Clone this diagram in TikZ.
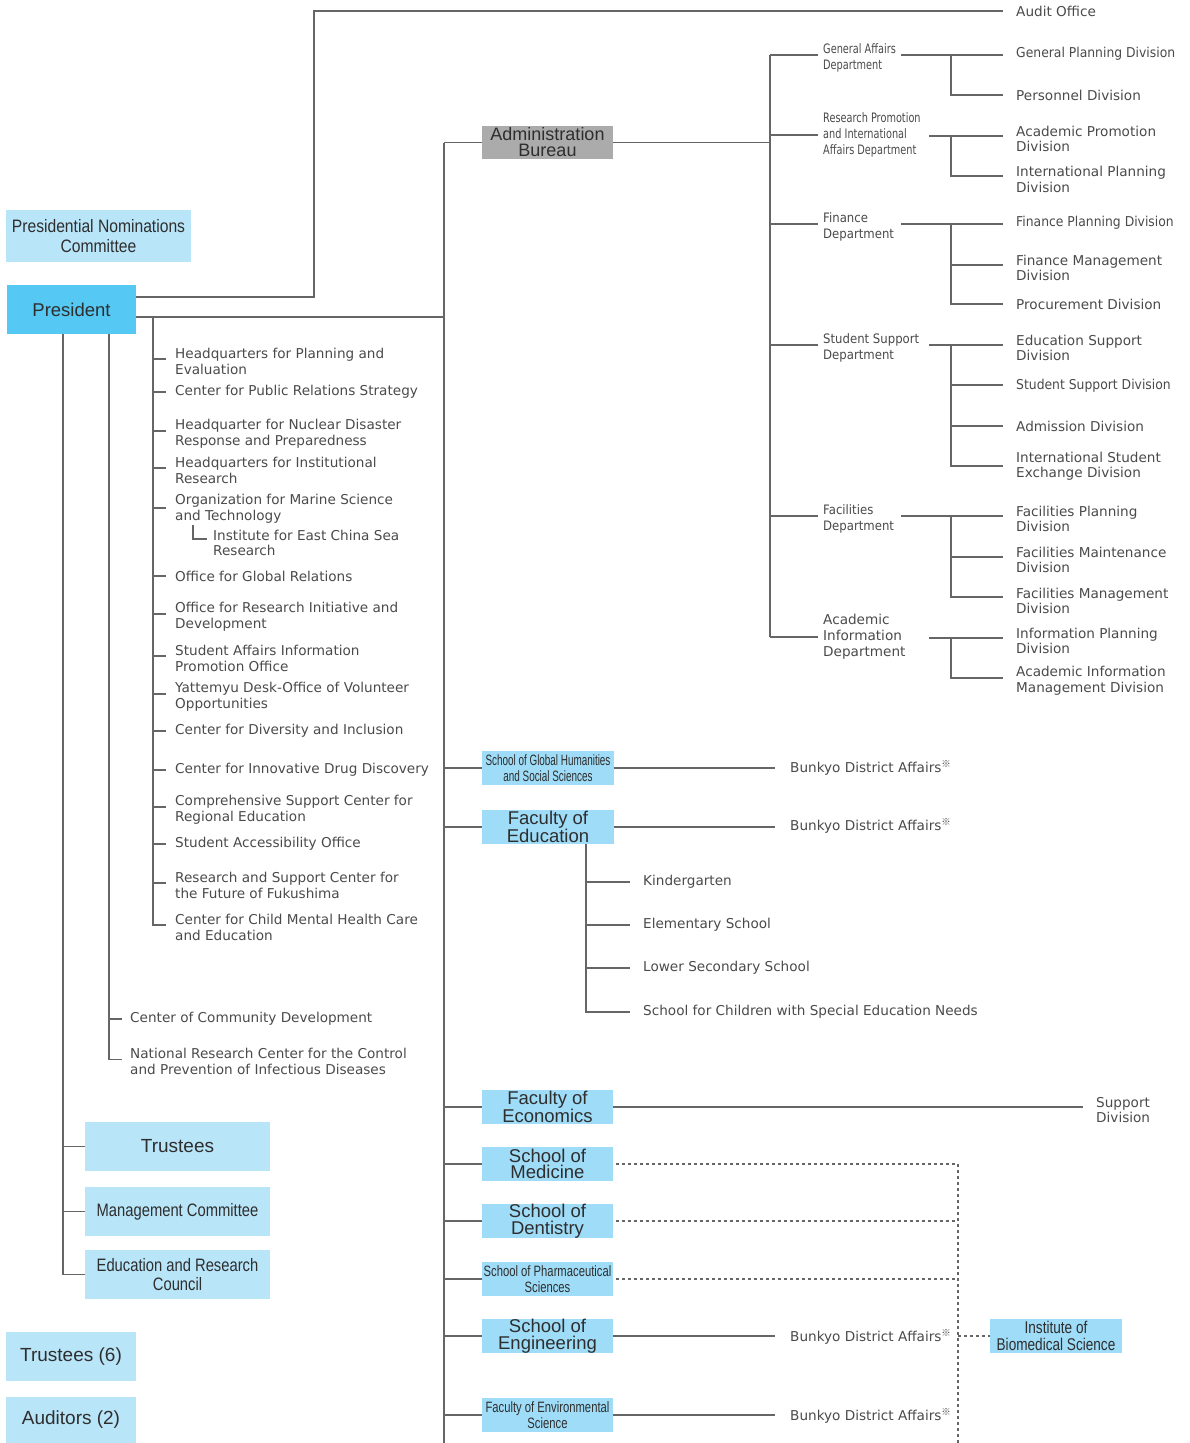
\documentclass[tikz,border=0pt]{standalone}
\usepackage{fontspec}
\setmainfont{DejaVu Sans}
\newfontfamily\bxf{Liberation Sans}
\newfontfamily\bxfS[FakeStretch=0.66]{Liberation Sans}
\newfontfamily\bxfP[FakeStretch=0.75]{Liberation Sans}
\newfontfamily\bxfI[FakeStretch=0.8]{Liberation Sans}
\newfontfamily\bxfN[FakeStretch=0.87]{Liberation Sans}
\newfontfamily\bxfM[FakeStretch=0.82]{Liberation Sans}
\newfontfamily\depA[FakeStretch=0.75]{DejaVu Sans}
\newfontfamily\depB[FakeStretch=0.9]{DejaVu Sans}
\newfontfamily\divN[FakeStretch=0.91]{DejaVu Sans}
\newfontfamily\cjkf{Noto Sans CJK JP}
\definecolor{linec}{HTML}{666666}
\definecolor{txtc}{HTML}{4A4A4A}
\definecolor{boxtc}{HTML}{2E2E2E}
\definecolor{lightb}{HTML}{B9E5F9}
\definecolor{presb}{HTML}{55C8F4}
\definecolor{facb}{HTML}{9FDCF7}
\definecolor{admb}{HTML}{ABABAB}
\newcommand\refmark{\raisebox{5.5pt}[0pt][0pt]{\cjkf\fontsize{9.5}{9.5}\selectfont ※}}
\newcommand\bodysize{\fontsize{13.6}{15.5}\selectfont}
\begin{document}
\begin{tikzpicture}[x=1pt,y=-1pt,
  conn/.style={draw=linec,line width=1.8pt},
  dotc/.style={draw=linec,line width=1.6pt,dash pattern=on 3pt off 3pt},
  txt/.style={inner sep=0pt,anchor=west,align=left,text=txtc,font=\bodysize},
  ntxt/.style={txt,font=\divN\bodysize},
  boxbase/.style={inner sep=0pt,draw=none},
  lbox/.style={boxbase,fill=lightb},
  pbox/.style={boxbase,fill=presb},
  fbox/.style={boxbase,fill=facb,minimum width=131pt,minimum height=34pt},
  gbox/.style={boxbase,fill=admb},
  blabel/.style={inner sep=0pt,align=center,text=boxtc},
  deptA/.style={txt,font=\depA\fontsize{13}{16}\selectfont},
  deptB/.style={txt,font=\depB\fontsize{13}{16}\selectfont},
]
\useasboundingbox (0,0) rectangle (1189,1443);

% ---------- boxes ----------
\node[lbox,minimum width=185pt,minimum height=52pt] (pnc) at (98.5,236) {};
\node[blabel,font=\bxfN\fontsize{18}{20}\selectfont] (pnc-l) at (pnc) {Presidential Nominations\\Committee};
\node[pbox,minimum width=129pt,minimum height=49pt] (pres) at (71.5,309.5) {};
\node[blabel,font=\bxf\fontsize{18.5}{20}\selectfont] (pres-l) at (pres) {President};
\node[gbox,minimum width=131pt,minimum height=33pt] (adm) at (547.5,142.5) {};
\node[blabel,font=\bxf\fontsize{18}{16}\selectfont] (adm-l) at (adm) {Administration\\Bureau};

\node[fbox,minimum width=132pt] (sgh) at (548,768) {};
\node[blabel,font=\bxfS\fontsize{15}{16}\selectfont] (sgh-l) at (sgh) {School of Global Humanities\\and Social Sciences};
\node[fbox,minimum width=132pt] (fed) at (548,827) {};
\node[blabel,font=\bxf\fontsize{18.5}{16.5}\selectfont] (fed-l) at (fed) {Faculty of\\Education};
\node[fbox] (fec) at (547.5,1107) {};
\node[blabel,font=\bxf\fontsize{18.5}{16.5}\selectfont] (fec-l) at (fec) {Faculty of\\Economics};
\node[fbox] (med) at (547.5,1164) {};
\node[blabel,font=\bxf\fontsize{18.5}{16.5}\selectfont] (med-l) at (med) {School of\\Medicine};
\node[fbox] (den) at (547.5,1221) {};
\node[blabel,font=\bxf\fontsize{18.5}{16.5}\selectfont] (den-l) at (den) {School of\\Dentistry};
\node[fbox] (pha) at (547.5,1279) {};
\node[blabel,font=\bxfP\fontsize{15}{16}\selectfont] (pha-l) at (pha) {School of Pharmaceutical\\Sciences};
\node[fbox] (eng) at (547.5,1336) {};
\node[blabel,font=\bxf\fontsize{18.5}{16.5}\selectfont] (eng-l) at (eng) {School of\\Engineering};
\node[fbox] (env) at (547.5,1415) {};
\node[blabel,font=\bxfP\fontsize{15}{16}\selectfont] (env-l) at (env) {Faculty of Environmental\\Science};
\node[fbox,minimum width=132pt] (ibs) at (1056,1336) {};
\node[blabel,font=\bxfI\fontsize{17}{17}\selectfont] (ibs-l) at (ibs) {Institute of\\Biomedical Science};

\node[lbox,minimum width=185pt,minimum height=49pt] (tru) at (177.5,1146.5) {};
\node[blabel,font=\bxf\fontsize{19}{20}\selectfont] (tru-l) at (tru) {Trustees};
\node[lbox,minimum width=185pt,minimum height=49pt] (mgc) at (177.5,1211.5) {};
\node[blabel,font=\bxfM\fontsize{18}{19}\selectfont] (mgc-l) at (mgc) {Management Committee};
\node[lbox,minimum width=185pt,minimum height=49pt] (erc) at (177.5,1274.5) {};
\node[blabel,font=\bxfM\fontsize{18}{19}\selectfont] (erc-l) at (erc) {Education and Research\\Council};
\node[lbox,minimum width=130pt,minimum height=49pt] (tr6) at (71,1356.5) {};
\node[blabel,font=\bxf\fontsize{19}{20}\selectfont] (tr6-l) at (tr6) {Trustees (6)};
\node[lbox,minimum width=130pt,minimum height=46pt] (aud) at (71,1420) {};
\node[blabel,font=\bxf\fontsize{19}{20}\selectfont] (aud-l) at (aud) {Auditors (2)};

% ---------- spine coordinates ----------
\coordinate (R) at (444,317);
\coordinate (Rb) at (444,1443);
\coordinate (L1) at (153,317);
\coordinate (L2) at (109,0);
\coordinate (L3) at (63,0);
\coordinate (T) at (314,0);
\coordinate (A) at (770,0);
\coordinate (Ea) at (901,0);
\coordinate (Eb) at (929,0);
\coordinate (D) at (951,0);
\coordinate (E) at (586,0);
\coordinate (M) at (958,0);
\coordinate (Mb) at (958,1443);

% ---------- audit office ----------
\node[txt] (audo) at (1016,11) {Audit Office};
\path ([xshift=-13pt]audo.west) coordinate (b-audo);
\draw[conn] ([yshift=12.5pt]pres.east) -| (T |- b-audo) -- (b-audo);

% ---------- main spine ----------
\draw[conn] ([yshift=-7.5pt]pres.east) -- (R);
\draw[conn] (R |- adm.west) -- (Rb);
\foreach \n in {adm,sgh,fed,fec,med,den,pha,eng,env}
  \draw[conn] (R |- \n.west) -- (\n.west);

% ---------- left column ----------
\node[txt] (hq1) at (175,361.5) {Headquarters for Planning and\\Evaluation};
\node[txt] (cpr) at (175,392) {Center for Public Relations Strategy};
\node[txt] (hnd) at (175,433.5) {Headquarter for Nuclear Disaster\\Response and Preparedness};
\node[txt] (hir) at (175,470.5) {Headquarters for Institutional\\Research};
\node[txt] (oms) at (175,508.5) {Organization for Marine Science\\and Technology};
\node[txt] (iec) at (213,543) {Institute for East China Sea\\Research};
\node[txt] (ogr) at (175,576) {Office for Global Relations};
\node[txt] (ori) at (175,616.5) {Office for Research Initiative and\\Development};
\node[txt] (sai) at (175,658.5) {Student Affairs Information\\Promotion Office};
\node[txt] (ydo) at (175,696.5) {Yattemyu Desk-Office of Volunteer\\Opportunities};
\node[txt] (cdi) at (175,731) {Center for Diversity and Inclusion};
\node[txt] (cid) at (175,770) {Center for Innovative Drug Discovery};
\node[txt] (csc) at (175,809.5) {Comprehensive Support Center for\\Regional Education};
\node[txt] (sao) at (175,844) {Student Accessibility Office};
\node[txt] (rsf) at (175,885.5) {Research and Support Center for\\the Future of Fukushima};
\node[txt] (cmh) at (175,927.5) {Center for Child Mental Health Care\\and Education};

\foreach \n/\d in {hq1/2.7,cpr/0,hnd/2.7,hir/2.7,oms/0.5,ogr/0,ori/2.7,sai/2.7,ydo/2.7,cdi/0,cid/0,csc/2.7,sao/0,rsf/2.7}{
  \path ([xshift=-9pt,yshift=\d pt]\n.west) coordinate (b-\n);
  \draw[conn] (L1 |- b-\n) -- (b-\n);
}
\path ([xshift=-9pt,yshift=2.7pt]cmh.west) coordinate (b-cmh);
\draw[conn] (L1) |- (b-cmh);
\path ([xshift=-6pt,yshift=3.7pt]iec.west) coordinate (b-iec);
\draw[conn] ([xshift=18pt,yshift=-2pt]oms.south west) |- (b-iec);

\node[txt] (ccd) at (130,1019) {Center of Community Development};
\node[txt] (nrc) at (130,1061.5) {National Research Center for the Control\\and Prevention of Infectious Diseases};
\path ([xshift=-8pt]ccd.west) coordinate (b-ccd);
\path ([xshift=-8pt,yshift=2pt]nrc.west) coordinate (b-nrc);
\draw[conn] (L2 |- pres.south) |- (b-nrc);
\draw[conn] (L2 |- b-ccd) -- (b-ccd);

\draw[conn] (L3 |- pres.south) |- (erc.west);
\draw[conn] (L3 |- tru.west) -- (tru.west);
\draw[conn] (L3 |- mgc.west) -- (mgc.west);

% ---------- administration bureau ----------
\node[deptA] (gad) at (823,58) {General Affairs\\Department};
\node[deptA] (rpi) at (823,135) {Research Promotion\\and International\\Affairs Department};
\node[deptB] (fin) at (823,227) {Finance\\Department};
\node[deptB] (ssp) at (823,348) {Student Support\\Department};
\node[deptB] (fac) at (823,519) {Facilities\\Department};
\node[txt,font=\fontsize{13.6}{16}\selectfont] (aci) at (823,637) {Academic\\Information\\Department};

\foreach \n/\d in {gad/3,rpi/0,fin/3,ssp/3,fac/3,aci/0}{
  \path ([xshift=-5pt,yshift=\d pt]\n.west) coordinate (b-\n);
}
\draw[conn] (adm.east) -- (A |- adm.east);
\draw[conn] (A |- b-gad) -- (A |- b-aci);
\foreach \n in {gad,rpi,fin,ssp,fac,aci}
  \draw[conn] (A |- b-\n) -- (b-\n);

\node[ntxt] (gpd) at (1016,54) {General Planning Division};
\node[txt] (ped) at (1016,95) {Personnel Division};
\node[txt] (apd) at (1016,139) {Academic Promotion\\Division};
\node[txt] (ipd) at (1016,179.3) {International Planning\\Division};
\node[ntxt] (fpd) at (1016,223) {Finance Planning Division};
\node[txt] (fmd) at (1016,268) {Finance Management\\Division};
\node[txt] (prd) at (1016,304) {Procurement Division};
\node[txt] (esd) at (1016,348) {Education Support\\Division};
\node[txt,font=\divN\bodysize] (ssd) at (1016,386) {Student Support Division};
\node[txt] (add) at (1016,426) {Admission Division};
\node[txt] (ise) at (1016,466) {International Student\\Exchange Division};
\node[txt] (fpl) at (1016,519) {Facilities Planning\\Division};
\node[txt] (fma) at (1016,559.7) {Facilities Maintenance\\Division};
\node[txt] (fmg) at (1016,600.7) {Facilities Management\\Division};
\node[txt] (ipl) at (1016,640.7) {Information Planning\\Division};
\node[txt] (aim) at (1016,680.7) {Academic Information\\Management Division};

\foreach \n/\d in {gpd/-1,ped/0,apd/3.3,ipd/3.3,fpd/-1,fmd/3,prd/0,esd/3,ssd/1,add/0,ise/0,fpl/3,fma/2.7,fmg/3.7,ipl/3,aim/2.4}{
  \path ([xshift=-13pt,yshift=\d pt]\n.west) coordinate (b-\n);
}
% dept -> division lines
\foreach \e/\f in {Ea/gpd,Eb/apd,Ea/fpd,Eb/esd,Ea/fpl,Eb/ipl}
  \draw[conn] (\e |- b-\f) -- (b-\f);
\foreach \f/\l in {gpd/ped,apd/ipd,fpd/prd,esd/ise,fpl/fmg,ipl/aim}
  \draw[conn] (D |- b-\f) |- (b-\l);
\foreach \n in {fmd,ssd,add,fma}
  \draw[conn] (D |- b-\n) -- (b-\n);

% ---------- faculties ----------
\node[txt] (bk1) at (790,769) {Bunkyo District Affairs\refmark};
\node[txt] (bk2) at (790,827) {Bunkyo District Affairs\refmark};
\node[txt] (bk3) at (790,1338) {Bunkyo District Affairs\refmark};
\node[txt] (bk4) at (790,1417) {Bunkyo District Affairs\refmark};
\foreach \f/\b in {sgh/bk1,fed/bk2,eng/bk3,env/bk4}{
  \path ([xshift=-15pt]\b.west) coordinate (b-\b);
  \draw[conn] (\f.east) -- (\f.east -| b-\b);
}

\node[txt] (kg) at (643,882) {Kindergarten};
\node[txt] (el) at (643,925) {Elementary School};
\node[txt] (ls) at (643,968) {Lower Secondary School};
\node[txt] (sc) at (643,1012) {School for Children with Special Education Needs};
\foreach \n in {kg,el,ls,sc}
  \path ([xshift=-13pt]\n.west) coordinate (b-\n);
\draw[conn] (E |- fed.south) |- (b-sc);
\foreach \n in {kg,el,ls}
  \draw[conn] (E |- b-\n) -- (b-\n);

\node[txt] (sup) at (1096,1110) {Support\\Division};
\path ([xshift=-13pt,yshift=3pt]sup.west) coordinate (b-sup);
\draw[conn] (fec.east) -- (fec.east -| b-sup);

\foreach \n in {med,den,pha}
  \draw[dotc] ([xshift=3pt]\n.east) -- (M |- \n.east);
\draw[dotc] (M |- med.east) -- (Mb);
\draw[dotc] (M |- ibs.west) -- (ibs.west);
\end{tikzpicture}
\end{document}
